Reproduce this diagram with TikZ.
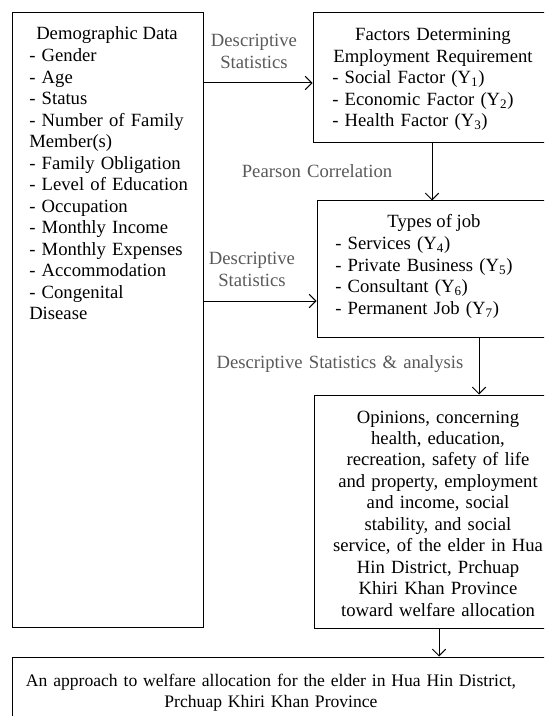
\documentclass[tikz,border=0pt]{standalone}
\usepackage{fontspec}
\setmainfont{Liberation Serif}
\usetikzlibrary{arrows.meta}
\definecolor{labelgray}{RGB}{89,89,89}
\tikzset{
	box/.style={draw,line width=.75pt,inner sep=0pt},
	txt/.style={inner sep=0pt,font=\fontsize{14}{16.1}\selectfont},
	lbl/.style={txt,text=labelgray,align=center,text width=120pt},
	arr/.style={line width=.75pt,-{Straight Barb[length=5pt,width=10pt]}}
}
\begin{document}
\begin{tikzpicture}[x=.75pt,y=-.75pt]
	\useasboundingbox (0,0) rectangle (544,716);
	\clip (0,0) rectangle (544,716);
	% boxes
	\node[box,minimum width=143.25pt,minimum height=460.5pt] (demo) at (107.5,320) {};
	\node[box,minimum width=185.25pt,minimum height=97.5pt] (factors) at (436.5,78) {};
	\node[box,minimum width=182.25pt,minimum height=102pt] (jobs) at (438.5,269) {};
	\node[box,minimum width=184.5pt,minimum height=174.75pt] (opinion) at (437,511.5) {};
	\node[box,minimum width=411pt,minimum height=62.25pt] (approach) at (286,698.5) {};
	% texts in the boxes
	\node[txt,anchor=base] (demotitle) at (107,40) {Demographic Data};
	\node[txt,anchor=base west,align=left,text width=135pt] (demolist) at (29,62) {- Gender\\- Age\\- Status\\- Number of Family\\Member(s)\\- Family Obligation\\- Level of Education\\- Occupation\\- Monthly Income\\- Monthly Expenses\\- Accommodation\\- Congenital\\Disease};
	\node[txt,anchor=base,align=center,text width=175pt] (factorstitle) at (433,41) {Factors Determining\\Employment Requirement};
	\node[txt,anchor=base west,align=left,text width=150pt] (factorslist) at (332,84) {- Social Factor (Y\textsubscript{1})\\- Economic Factor (Y\textsubscript{2})\\- Health Factor (Y\textsubscript{3})};
	\node[txt,anchor=base] (jobstitle) at (434,228) {Types of job};
	\node[txt,anchor=base west,align=left,text width=150pt] (jobslist) at (335,250) {- Services (Y\textsubscript{4})\\- Private Business (Y\textsubscript{5})\\- Consultant (Y\textsubscript{6})\\- Permanent Job (Y\textsubscript{7})};
	\node[txt,anchor=base,align=center,text width=175pt] (opiniontext) at (438,423) {Opinions, concerning\\health, education,\\recreation, safety of life\\and property, employment\\and income, social\\stability, and social\\service, of the elder in Hua\\Hin District, Prchuap\\Khiri Khan Province\\toward welfare allocation};
	\node[txt,anchor=base,align=center,text width=390pt,font=\fontsize{13.2}{16.1}\selectfont] (approachtext) at (271,686) {An approach to welfare allocation for the elder in Hua Hin District,\\Prchuap Khiri Khan Province};
	% arrows
	\draw[arr] (demo.east |- 0,83) -- (factors.west |- 0,83);
	\draw[arr] (factors.south -| 432,0) -- (jobs.north -| 432,0);
	\draw[arr] (demo.east |- 0,301) -- (jobs.west |- 0,301);
	\draw[arr] (jobs.south -| 479,0) -- (opinion.north -| 479,0);
	\draw[arr] (opinion.south -| 439,0) -- (approach.north -| 439,0);
	% labels
	\node[lbl,anchor=base] (descr1) at (254,47) {Descriptive\\Statistics};
	\node[lbl,anchor=base,text width=160pt] (pearson) at (317,178) {Pearson Correlation};
	\node[lbl,anchor=base] (descr2) at (252,265) {Descriptive\\Statistics};
	\node[lbl,anchor=base,text width=220pt] (analysis) at (340,368) {Descriptive Statistics \& analysis};
\end{tikzpicture}
\end{document}
